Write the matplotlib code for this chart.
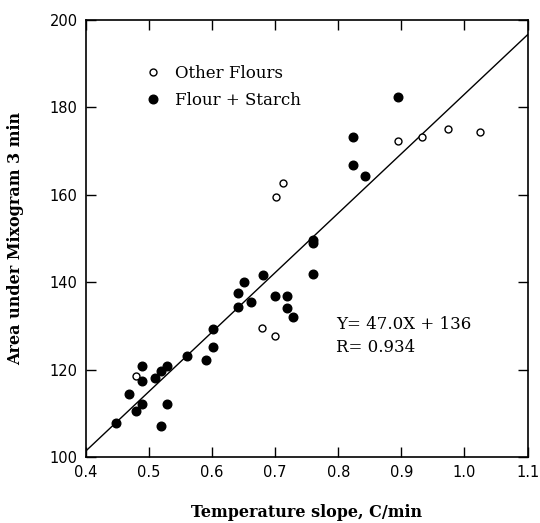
import matplotlib
matplotlib.use("Agg")
import matplotlib.pyplot as plt
import numpy as np

# Data
starch_x = [0.448, 0.468, 0.479, 0.489, 0.489, 0.489, 0.509, 0.519, 0.519, 0.529,
            0.529, 0.560, 0.590, 0.601, 0.601, 0.641, 0.641, 0.651, 0.661, 0.680,
            0.700, 0.719, 0.719, 0.729, 0.760, 0.760, 0.760, 0.823, 0.823, 0.843,
            0.895]
starch_y = [107.8, 114.4, 110.5, 120.8, 117.3, 112.2, 118.2, 119.8, 107.2, 120.9,
            112.2, 123.1, 122.3, 125.2, 129.2, 134.4, 137.6, 140.0, 135.5, 141.7,
            136.9, 136.9, 134.1, 132.0, 149.6, 148.9, 141.9, 173.1, 166.9, 164.4,
            182.4]
other_x = [0.479, 0.679, 0.699, 0.701, 0.712, 0.894, 0.933, 0.974, 1.024]
other_y = [118.5, 129.5, 127.6, 159.5, 162.7, 172.3, 173.2, 175.0, 174.3]

fit_intercept = 47.0
fit_slope = 136.0
eq_text = "Y= 47.0X + 136\nR= 0.934"

x_ticks = [0.4, 0.5, 0.6, 0.7, 0.8, 0.9, 1.0, 1.1]
x_ticklabels = ["0.4", "0.5", "0.6", "0.7", "0.8", "0.9", "1.0", "1.1"]
y_ticks = [100, 120, 140, 160, 180, 200]
y_ticklabels = ["100", "120", "140", "160", "180", "200"]

fig = plt.figure(figsize=(5.4, 5.23), dpi=100)
ax = fig.add_axes([0.159, 0.126, 0.818, 0.836])

serif = "DejaVu Serif"

lx = np.array([0.4, 1.1])
ax.plot(lx, fit_intercept + fit_slope * lx, color="black", lw=1.0, zorder=1)

ax.plot(starch_x, starch_y, "o", color="black", ms=6.2, ls="none",
        label="Flour + Starch", zorder=3)
ax.plot(other_x, other_y, "o", mfc="white", mec="black", mew=1.0, ms=5.0,
        ls="none", label="Other Flours", zorder=3)

ax.set_xlim(0.4, 1.1)
ax.set_ylim(100, 200)
ax.set_xticks(x_ticks)
ax.set_xticklabels(x_ticklabels)
ax.set_yticks(y_ticks)
ax.set_yticklabels(y_ticklabels)
ax.tick_params(direction="in", length=7, width=1.0, top=True, right=True,
               labelsize=10.5, pad=6)
for lab in ax.get_xticklabels() + ax.get_yticklabels():
    lab.set_family("DejaVu Sans")
for s in ax.spines.values():
    s.set_linewidth(1.2)

ax.set_xlabel("Temperature slope, C/min", family=serif, fontsize=11.5,
              fontweight="bold", labelpad=17)
ax.set_ylabel("Area under Mixogram 3 min", family=serif, fontsize=11.5,
              fontweight="bold", labelpad=18)

handles, labels = ax.get_legend_handles_labels()
leg = ax.legend(handles[::-1], labels[::-1], loc="upper left",
                bbox_to_anchor=(0.122, 0.912), frameon=False,
                prop={"family": serif, "size": 12}, handlelength=0.8,
                handletextpad=0.9, labelspacing=0.6, borderaxespad=0)

ax.text(0.566, 0.322, eq_text, transform=ax.transAxes, family=serif,
        fontsize=12, va="top", ha="left", linespacing=1.45)

fig.savefig("out.png", dpi=100)
